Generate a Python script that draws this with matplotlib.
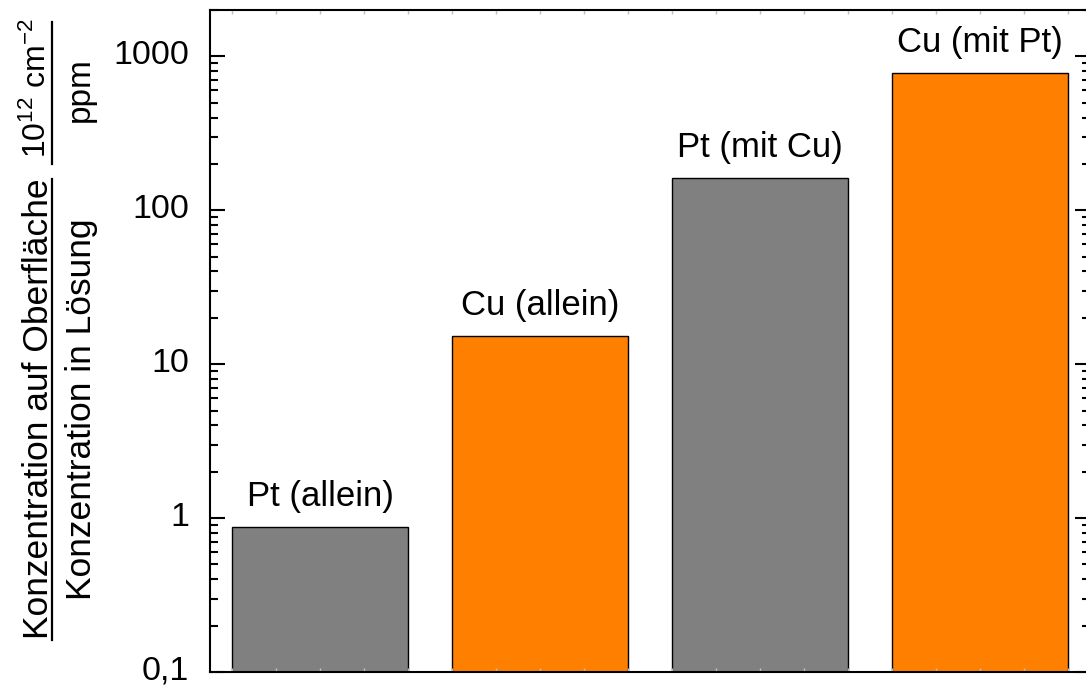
import matplotlib.pyplot as plt
from matplotlib.lines import Line2D
from matplotlib.ticker import FixedLocator, FuncFormatter, LogLocator, NullFormatter
from matplotlib.transforms import ScaledTranslation
import numpy as np

# Anreicherung auf der Oberfläche relativ zur Lösungskonzentration
labels = ['Pt (allein)', 'Cu (allein)', 'Pt (mit Cu)', 'Cu (mit Pt)']
values = [0.87, 15.2, 161, 780]
colors = ['#808080', '#ff8000', '#808080', '#ff8000']

plt.rcParams['font.family'] = ['Liberation Sans', 'DejaVu Sans']
plt.rcParams['mathtext.default'] = 'regular'

W, H = 1086, 688
fig = plt.figure(figsize=(W / 100, H / 100), dpi=100, facecolor='w')
# right spine sits just outside the canvas
ax = fig.add_axes([210 / W, 16 / H, 880 / W, 662 / H])

x = np.arange(len(values))
ax.bar(x, values, width=0.8, color=colors, edgecolor='black', linewidth=1.0)

for xi, v, lab in zip(x, values, labels):
    ax.annotate(lab, (xi, v), xytext=(0, 22), textcoords='offset points',
                ha='center', va='center', fontsize=25)

ax.set_yscale('log')
ax.set_ylim(0.1, 2000)
ax.set_xlim(-0.5, 3.5)

ax.yaxis.set_major_locator(FixedLocator([0.1, 1, 10, 100, 1000]))
ax.yaxis.set_major_formatter(FuncFormatter(
    lambda v, pos: ('%g' % v).replace('.', ',')))
ax.yaxis.set_minor_locator(LogLocator(base=10, subs=np.arange(2, 10)))
ax.yaxis.set_minor_formatter(NullFormatter())
ax.tick_params(axis='y', which='major', direction='in', length=10.5, width=1.5,
               right=True, labelsize=24.5, pad=15)
ax.tick_params(axis='y', which='minor', direction='in', length=5.5, width=1.5,
               right=True)

# nudge the y tick labels up a little so "0,1" stays on the canvas
shift = ScaledTranslation(0, 3 / 72, fig.dpi_scale_trans)
for t in ax.get_yticklabels():
    t.set_transform(t.get_transform() + shift)

# faint x ticks along top and bottom
ax.set_xticks(np.arange(-0.4, 3.5, 0.2))
ax.tick_params(axis='x', which='major', direction='in', length=3, width=1,
               color='#c0c0c0', top=True, labelbottom=False)

for s in ax.spines.values():
    s.set_linewidth(1.5)

# y label drawn as two stacked fractions
def ftext(px, py, s, size=25.5):
    fig.text(px / W, 1 - py / H, s, rotation=90, ha='center', va='center',
             fontsize=size)

def fline(px, y0, y1):
    fig.add_artist(Line2D([px / W, px / W], [1 - y0 / H, 1 - y1 / H],
                          transform=fig.transFigure, color='black', lw=1.6))

ftext(39, 409, 'Konzentration auf Oberfläche')
fline(52, 179, 640)
ftext(82, 409, 'Konzentration in Lösung')

ftext(37, 88, r'10$^{12}$ cm$^{-2}$', size=23)
fline(52, 22, 164)
ftext(80, 90, 'ppm', size=24)

fig.savefig('out.png', dpi=100)
